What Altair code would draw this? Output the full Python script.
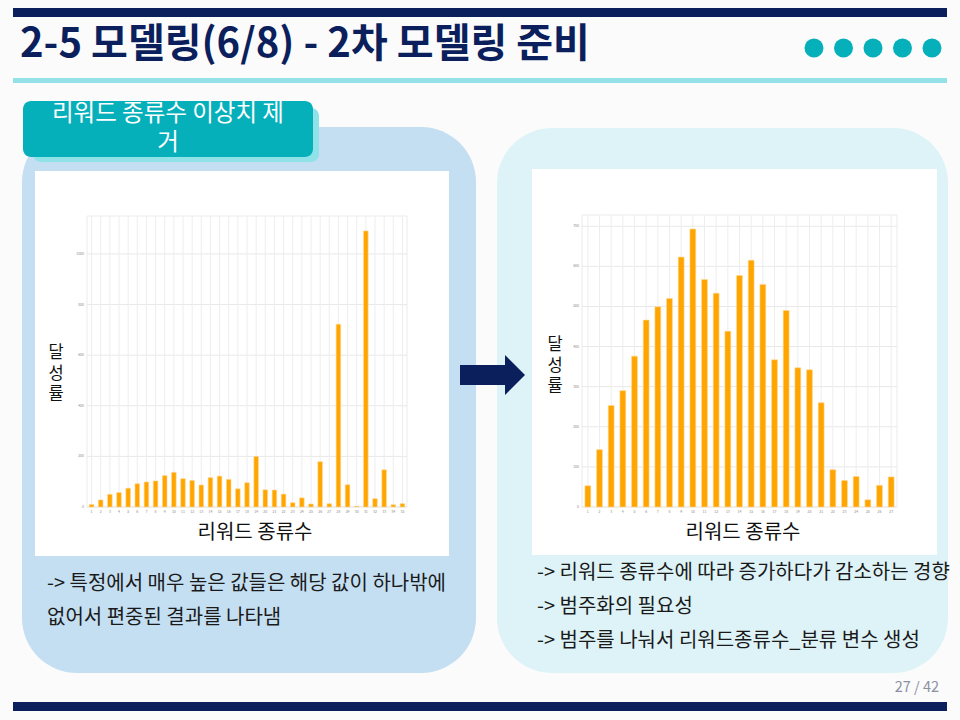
import altair as alt
import pandas as pd

# ---------------- data ----------------
left_categories = list(range(1, 36))
left_values = [10, 28, 50, 57, 74, 92, 99, 103, 124, 137, 112, 105, 87, 116, 122,
               109, 72, 96, 200, 68, 67, 51, 17, 36, 12, 179, 13, 722, 88, 3,
               1091, 33, 147, 9, 13]
left_ticks = [0, 200, 400, 600, 800, 1000]

right_categories = list(range(1, 28))
right_values = [53, 143, 253, 290, 376, 466, 499, 520, 623, 693, 567, 533, 438, 577,
                615, 555, 367, 490, 347, 342, 260, 93, 66, 76, 18, 54, 75]
right_ticks = [0, 100, 200, 300, 400, 500, 600, 700]

title_text = "2-5 모델링(6/8) - 2차 모델링 준비"
badge_lines = ["리워드 종류수 이상치 제", "거"]
x_title = "리워드 종류수"
y_title_lines = ["달", "성", "률"]
left_notes = ["-> 특정에서 매우 높은 값들은 해당 값이 하나밖에", "없어서 편중된 결과를 나타냄"]
right_notes = ["-> 리워드 종류수에 따라 증가하다가 감소하는 경향", "-> 범주화의 필요성",
               "-> 범주를 나눠서 리워드종류수_분류 변수 생성"]
page_text = "27 / 42"

NAVY = "#0b1f5c"
TEAL = "#05b0bb"
FONT = "Noto Sans CJK KR"

one = pd.DataFrame({"a": [0]})


def box(x, x2, y, y2, color, r=0, stroke=None):
    kw = dict(color=color, cornerRadius=r)
    if stroke:
        kw = dict(fill=color, stroke=stroke, strokeWidth=1, cornerRadius=r)
    return alt.Chart(one).mark_rect(**kw).encode(
        x=alt.value(x), x2=alt.value(x2), y=alt.value(y), y2=alt.value(y2))


def label(text, x, y, size, color="#1a1a1a", align="left", weight="normal",
          baseline="middle"):
    kw = dict(text=text, fontSize=size, color=color, align=align, font=FONT,
              fontWeight=weight, baseline=baseline)
    return alt.Chart(one).mark_text(**kw).encode(x=alt.value(x), y=alt.value(y))


def lines(texts, x, y0, step, size, color="#1a1a1a", align="left"):
    return [label(t, x, y0 + i * step, size, color, align=align)
            for i, t in enumerate(texts)]


def bar_panel(cats, vals, ticks, x_range, y_range, y_dom):
    df = pd.DataFrame({"cat": cats, "val": vals})
    tdf = pd.DataFrame({"t": ticks})
    xs = alt.Scale(domain=cats, range=x_range, paddingInner=0.5, paddingOuter=0.25)
    ys = alt.Scale(domain=y_dom, range=[y_range[0], y_range[1]], nice=False, zero=True)
    frame = box(x_range[0], x_range[1], y_range[1], y_range[0], "#ffffff",
                stroke="#ebebeb")
    vgrid = alt.Chart(df).mark_rule(color="#ededed", strokeWidth=1).encode(
        x=alt.X("cat:O", scale=xs, axis=None),
        y=alt.value(y_range[1]), y2=alt.value(y_range[0]))
    hgrid = alt.Chart(tdf).mark_rule(color="#e8e8e8", strokeWidth=1).encode(
        y=alt.Y("t:Q", scale=ys, axis=None),
        x=alt.value(x_range[0]), x2=alt.value(x_range[1]))
    bars = alt.Chart(df).mark_bar(color="#FFA500", stroke="#FFD690",
                                  strokeWidth=0.6).encode(
        x=alt.X("cat:O", scale=xs, axis=None),
        y=alt.Y("val:Q", scale=ys, axis=None))
    xlab = alt.Chart(df).mark_text(fontSize=3.5, color="#8a8a8a", baseline="top",
                                   font=FONT).encode(
        x=alt.X("cat:O", scale=xs, axis=None),
        y=alt.value(y_range[0] + 3), text="cat:O")
    ylab = alt.Chart(tdf).mark_text(fontSize=3.5, color="#8a8a8a", align="right",
                                    font=FONT).encode(
        y=alt.Y("t:Q", scale=ys, axis=None),
        x=alt.value(x_range[0] - 3), text="t:Q")
    return alt.layer(frame, hgrid, vgrid, bars, xlab, ylab)


# ---------------- decoration ----------------
decor = [
    box(13, 947, 8, 17, NAVY),
    box(13, 947, 78, 83, "#95e1e8"),
    box(13, 947, 702, 711, NAVY),
    label(title_text, 20, 45, 40, NAVY, weight="bold"),
    box(22, 476, 127, 673, "#c5dff2", r=55),
    box(497, 948, 128, 673, "#def3f7", r=55),
    box(33, 319, 108, 162, "#8ee2e8", r=8),
    box(23, 313, 101, 157, TEAL, r=8),
    *lines(badge_lines, 168, 114, 29, 23.5, "#ffffff", align="center"),
    box(35, 449, 171, 556, "#ffffff"),
    box(532, 937, 169, 555, "#ffffff"),
    label(x_title, 255, 533, 20, "#111111", align="center"),
    label(x_title, 743, 533, 20, "#111111", align="center"),
    *lines(y_title_lines, 56, 353, 20.5, 16.5, "#111111", align="center"),
    *lines(y_title_lines, 555, 345, 20.5, 16.5, "#111111", align="center"),
    *lines(left_notes, 47, 584, 34, 20),
    *lines(right_notes, 537, 573, 34, 20),
    label(page_text, 939, 688, 14.5, "#8c90a3", align="right"),
]

dots = alt.Chart(pd.DataFrame({"d": [0, 1, 2, 3, 4]})).mark_point(
    filled=True, shape="circle", size=360, color=TEAL, opacity=1).encode(
    x=alt.X("d:O", scale=alt.Scale(range=[814, 932], padding=0, paddingOuter=0,
                                   paddingInner=0), axis=None),
    y=alt.value(48))

arrow = alt.Chart(one).mark_point(
    shape="M-1,-0.31 L0.385,-0.31 L0.385,-0.615 L1,0 L0.385,0.615 L0.385,0.31 L-1,0.31 Z",
    filled=True, size=4225, color=NAVY, opacity=1).encode(
    x=alt.value(492.5), y=alt.value(375))

left_chart = bar_panel(left_categories, left_values, left_ticks,
                       [87, 407], [507, 216], [0, 1150])
right_chart = bar_panel(right_categories, right_values, right_ticks,
                        [582, 897], [507, 215], [0, 728])

chart = alt.layer(*decor, arrow, dots, left_chart, right_chart).resolve_scale(
    x="independent", y="independent").properties(
    width=960, height=720, padding=0,
    autosize=alt.AutoSizeParams(type="none"),
    background="#fbfbfb").configure_view(stroke=None)

chart.save("out.html", embed_options={"renderer": "svg", "actions": False})
